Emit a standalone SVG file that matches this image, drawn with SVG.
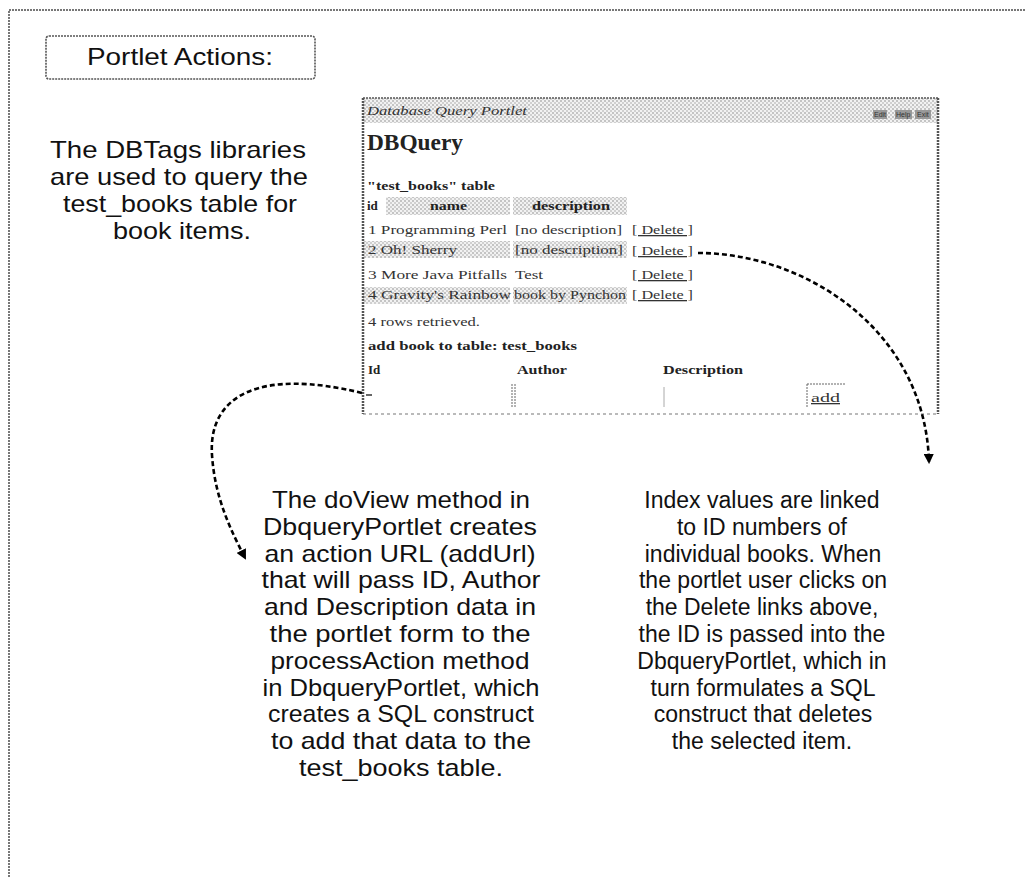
<svg xmlns="http://www.w3.org/2000/svg" width="1026" height="877" viewBox="0 0 1026 877">
<defs>
<pattern id="chk" width="4" height="4" patternUnits="userSpaceOnUse">
<rect width="4" height="4" fill="#f2f2f2"/>
<rect x="0" y="0" width="2" height="2" fill="#c4c4c4"/>
<rect x="2" y="2" width="2" height="2" fill="#d0d0d0"/>
</pattern>
<marker id="ah" viewBox="0 0 10 10" refX="8" refY="5" markerWidth="4" markerHeight="4" orient="auto" markerUnits="strokeWidth">
<path d="M0,0 L10,5 L0,10 z" fill="#000"/>
</marker>
<style>
.t{font-family:"Liberation Sans",Arial,Helvetica,sans-serif;font-size:24px;fill:#111;text-anchor:middle}
.r{font-size:23px}
.s{font-family:"Liberation Serif","Times New Roman",serif;font-size:13px;fill:#333}
.sb{font-family:"Liberation Serif","Times New Roman",serif;font-size:13px;font-weight:bold;fill:#222}
.con{fill:none;stroke:#000;stroke-width:2.6;stroke-dasharray:5 3}
.dot{fill:none;stroke:#666;stroke-dasharray:2 1}
</style>
</defs>
<rect width="1026" height="877" fill="#fff"/>
<g id="frame">
<path d="M9,877 L9,10 L1026,10" fill="none" stroke="#777" stroke-width="2" stroke-dasharray="2 1"/>
</g>
<g id="title-box">
<rect x="46" y="36" width="269" height="43" rx="3" fill="#fff" stroke="#555" stroke-width="1.6" stroke-dasharray="2 1"/>
<text class="t" x="180" y="65" textLength="186" lengthAdjust="spacingAndGlyphs">Portlet Actions:</text>
</g>
<g id="note-dbtags">
<text class="t" x="178" y="158" textLength="256" lengthAdjust="spacingAndGlyphs">The DBTags libraries</text>
<text class="t" x="179" y="185" textLength="258" lengthAdjust="spacingAndGlyphs">are used to query the</text>
<text class="t" x="180" y="212" textLength="234" lengthAdjust="spacingAndGlyphs">test_books table for</text>
<text class="t" x="182" y="239" textLength="138" lengthAdjust="spacingAndGlyphs">book items.</text>
</g>
<g id="portlet-screenshot">
<rect x="363" y="98" width="575" height="316" fill="#fff"/>
<rect x="363" y="98" width="575" height="25" fill="url(#chk)"/>
<text x="367" y="115" textLength="160" lengthAdjust="spacingAndGlyphs" style="font-family:'Liberation Serif',serif;font-style:italic;font-size:13px;fill:#333">Database Query Portlet</text>
<g style="font-family:'Liberation Sans',sans-serif;font-size:7px">
<rect x="873" y="110" width="14" height="9" fill="#999"/>
<rect x="895" y="110" width="17" height="9" fill="#999"/>
<rect x="915" y="110" width="16" height="9" fill="#999"/>
<text x="874" y="117" fill="#333">Edit</text>
<text x="896" y="117" fill="#333">Help</text>
<text x="917" y="117" fill="#333">Exit</text>
</g>
<text x="367" y="150" textLength="96" lengthAdjust="spacingAndGlyphs" style="font-family:'Liberation Serif',serif;font-weight:bold;font-size:24px;fill:#222">DBQuery</text>
<text class="sb" x="367" y="190" textLength="128" lengthAdjust="spacingAndGlyphs">"test_books" table</text>
<rect x="386" y="197" width="124" height="18" fill="url(#chk)"/>
<rect x="513" y="197" width="114" height="18" fill="url(#chk)"/>
<text class="sb" x="367" y="210">id</text>
<text class="sb" x="430" y="210" textLength="37" lengthAdjust="spacingAndGlyphs">name</text>
<text class="sb" x="532" y="210" textLength="78" lengthAdjust="spacingAndGlyphs">description</text>
<rect x="363" y="241" width="147" height="17" fill="url(#chk)"/>
<rect x="513" y="241" width="114" height="17" fill="url(#chk)"/>
<rect x="363" y="287" width="147" height="17" fill="url(#chk)"/>
<rect x="513" y="287" width="114" height="17" fill="url(#chk)"/>
<g>
<text class="s" x="368" y="234" textLength="139" lengthAdjust="spacingAndGlyphs">1  Programming Perl</text>
<text class="s" x="515" y="234" textLength="107" lengthAdjust="spacingAndGlyphs">[no description]</text>
<text class="s" x="368" y="254" textLength="89" lengthAdjust="spacingAndGlyphs">2  Oh! Sherry</text>
<text class="s" x="515" y="254" textLength="108" lengthAdjust="spacingAndGlyphs">[no description]</text>
<text class="s" x="368" y="279" textLength="139" lengthAdjust="spacingAndGlyphs">3  More Java Pitfalls</text>
<text class="s" x="515" y="279" textLength="28" lengthAdjust="spacingAndGlyphs">Test</text>
<text class="s" x="368" y="299" textLength="143" lengthAdjust="spacingAndGlyphs">4  Gravity's Rainbow</text>
<text class="s" x="514" y="299" textLength="112" lengthAdjust="spacingAndGlyphs">book by Pynchon</text>
</g>
<g>
<text class="s" x="632" y="234" textLength="61" lengthAdjust="spacingAndGlyphs" text-decoration="underline">[ Delete ]</text>
<text class="s" x="632" y="255" textLength="61" lengthAdjust="spacingAndGlyphs" text-decoration="underline">[ Delete ]</text>
<text class="s" x="632" y="279" textLength="61" lengthAdjust="spacingAndGlyphs" text-decoration="underline">[ Delete ]</text>
<text class="s" x="632" y="299" textLength="61" lengthAdjust="spacingAndGlyphs" text-decoration="underline">[ Delete ]</text>
</g>
<text class="s" x="368" y="326" textLength="112" lengthAdjust="spacingAndGlyphs">4 rows retrieved.</text>
<text class="sb" x="368" y="350" textLength="209" lengthAdjust="spacingAndGlyphs">add book to table: test_books</text>
<text class="sb" x="368" y="374">Id</text>
<text class="sb" x="517" y="374" textLength="50" lengthAdjust="spacingAndGlyphs">Author</text>
<text class="sb" x="663" y="374" textLength="80" lengthAdjust="spacingAndGlyphs">Description</text>
<path d="M366,395 L372,395" stroke="#333" stroke-width="1.5"/>
<path d="M512,384 L512,408 M515,384 L515,408" class="dot"/>
<path d="M664,387 L664,407" stroke="#aaa" stroke-width="1"/>
<path d="M807,384 L845,384 M807,384 L807,408" class="dot"/>
<text class="s" x="811" y="402" textLength="29" lengthAdjust="spacingAndGlyphs" text-decoration="underline">add</text>
<path d="M363,98 L938,98" stroke="#555" stroke-width="1.5" stroke-dasharray="2 1"/>
<path d="M363,98 L363,414 M938,98 L938,414" stroke="#555" stroke-width="2.5" stroke-dasharray="2 1"/>
<path d="M363,414 L938,414" stroke="#777" stroke-width="1.2" stroke-dasharray="3 3"/>
</g>
<g id="note-doview">
<text class="t" x="401" y="508" textLength="258" lengthAdjust="spacingAndGlyphs">The doView method in</text>
<text class="t" x="400" y="535" textLength="274" lengthAdjust="spacingAndGlyphs">DbqueryPortlet creates</text>
<text class="t" x="400" y="562" textLength="271" lengthAdjust="spacingAndGlyphs">an action URL (addUrl)</text>
<text class="t" x="401" y="588" textLength="279" lengthAdjust="spacingAndGlyphs">that will pass ID, Author</text>
<text class="t" x="400" y="615" textLength="272" lengthAdjust="spacingAndGlyphs">and Description data in</text>
<text class="t" x="400" y="642" textLength="261" lengthAdjust="spacingAndGlyphs">the portlet form to the</text>
<text class="t" x="400" y="669" textLength="259" lengthAdjust="spacingAndGlyphs">processAction method</text>
<text class="t" x="401" y="696" textLength="277" lengthAdjust="spacingAndGlyphs">in DbqueryPortlet, which</text>
<text class="t" x="401" y="722" textLength="266" lengthAdjust="spacingAndGlyphs">creates a SQL construct</text>
<text class="t" x="401" y="749" textLength="260" lengthAdjust="spacingAndGlyphs">to add that data to the</text>
<text class="t" x="401" y="776" textLength="204" lengthAdjust="spacingAndGlyphs">test_books table.</text>
</g>
<g id="note-index">
<text class="t r" x="762" y="508">Index values are linked</text>
<text class="t r" x="762" y="535">to ID numbers of</text>
<text class="t r" x="763" y="562">individual books. When</text>
<text class="t r" x="763" y="588">the portlet user clicks on</text>
<text class="t r" x="762" y="615">the Delete links above,</text>
<text class="t r" x="762" y="642">the ID is passed into the</text>
<text class="t r" x="762" y="669">DbqueryPortlet, which in</text>
<text class="t r" x="763" y="696">turn formulates a SQL</text>
<text class="t r" x="763" y="722">construct that deletes</text>
<text class="t r" x="762" y="749">the selected item.</text>
</g>
<g id="connectors">
<path class="con" d="M698,253 C805,253 925,330 929,462" marker-end="url(#ah)"/>
<path class="con" d="M362,393 C260,368 208,395 212,455 C215,500 232,532 245,558" marker-end="url(#ah)"/>
</g>
</svg>
